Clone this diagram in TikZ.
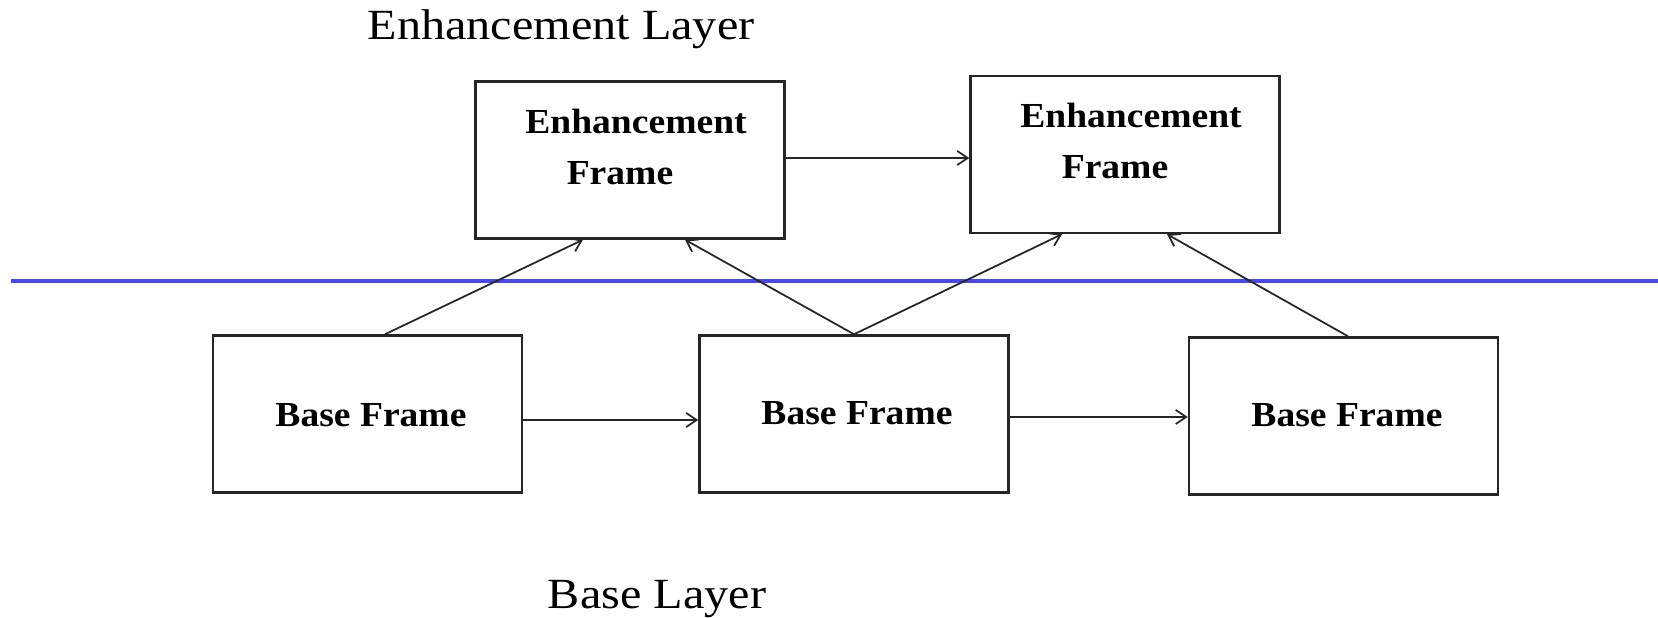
\documentclass[tikz,border=0pt]{standalone}
\usepackage{fontspec}
\setmainfont{Liberation Serif}
\newfontfamily\titlefont[FakeStretch=1.12]{Liberation Serif}
\newfontfamily\framefont[FakeStretch=1.07]{Liberation Serif}
\usetikzlibrary{arrows.meta}
\definecolor{layerline}{RGB}{70,70,250}
\tikzset{
  frame box/.style={draw=black!85, line width=1.4pt, rectangle,
    minimum width=6.18cm, minimum height=3.14cm, inner sep=0pt},
  box text/.style={font=\framefont\fontsize{20}{28.5}\selectfont\bfseries, inner sep=0pt, align=center},
  layer title/.style={font=\titlefont\fontsize{24.5}{30}\selectfont, inner sep=0pt, anchor=base},
  link/.style={draw=black!85, line width=1pt,
    -{Straight Barb[length=6pt,width=8pt,line width=1pt]}},
  divider/.style={draw=layerline, line width=2.2pt}
}
\begin{document}
\begin{tikzpicture}[x=0.02cm, y=-0.02cm]
\useasboundingbox (0,0) rectangle (1658,618);

% layer titles
\node[layer title] (tEL) at (561,40) {Enhancement Layer};
\node[layer title] (tBL) at (657,608) {Base Layer};

% dividing line between the layers
\coordinate (dL) at (11,281);
\coordinate (dR) at (1658,281);
\draw[divider] (dL) -- (dR);

% frames
\node[frame box] (e1) at (630,160) {};
\node[frame box] (e2) at (1125,154.5) {};
\node[frame box] (b1) at (367.5,414) {};
\node[frame box] (b2) at (854,414) {};
\node[frame box] (b3) at (1343.5,416) {};

% frame labels
\node[box text] (e1t) at (636,147) {Enhancement\\Frame\hspace*{0.64cm}};
\node[box text] (e2t) at (1131,141) {Enhancement\\Frame\hspace*{0.64cm}};
\node[box text, anchor=base] (b1t) at (371,427) {Base Frame};
\node[box text, anchor=base] (b2t) at (857,424) {Base Frame};
\node[box text, anchor=base] (b3t) at (1347,427) {Base Frame};

% temporal prediction
\draw[link] ([yshift=0.04cm]e1.east) -- ([yshift=0.04cm]e1.east -| e2.west);
\draw[link] ([yshift=-0.12cm]b1.east) -- ([yshift=-0.12cm]b1.east -| b2.west);
\draw[link] ([yshift=-0.06cm]b2.east) -- ([yshift=-0.06cm]b2.east -| b3.west);

% inter-layer prediction
\draw[link] ([xshift=0.35cm]b1.north) -- ([xshift=-0.94cm]e1.south);
\draw[link] (b2.north) -- ([xshift=1.1cm]e1.south);
\draw[link] (b2.north) -- ([xshift=-1.26cm]e2.south);
\draw[link] ([xshift=0.09cm]b3.north) -- ([xshift=0.84cm]e2.south);
\end{tikzpicture}
\end{document}
